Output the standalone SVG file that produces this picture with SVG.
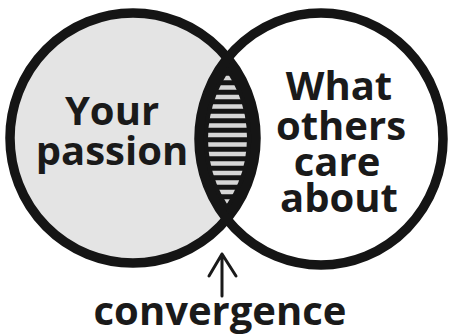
<svg xmlns="http://www.w3.org/2000/svg" width="450" height="336" viewBox="0 0 450 336">
  <style>
    .ring { fill: none; stroke: #151515; stroke-width: 9.5; }
    .lbl { font-family: "Open Sans", "DejaVu Sans", sans-serif; font-weight: 700; font-size: 40px; fill: #1a1a1a; text-anchor: middle; }
    .stripe { stroke: #d6d6d6; stroke-width: 4.5; }
    .arrow { fill: none; stroke: #1a1a1a; stroke-width: 3; stroke-linecap: round; stroke-linejoin: round; }
  </style>
  <defs>
    <clipPath id="clipL"><ellipse cx="133" cy="138" rx="123" ry="125"/></clipPath>
    <clipPath id="clipR"><ellipse cx="321" cy="139" rx="122" ry="126"/></clipPath>
    <clipPath id="clipLi"><ellipse cx="133" cy="138" rx="114" ry="116"/></clipPath>
    <clipPath id="clipRi"><ellipse cx="321" cy="139" rx="113" ry="117"/></clipPath>
  </defs>
  <rect width="450" height="336" fill="#ffffff"/>

  <g id="passion">
    <ellipse cx="133" cy="138" rx="123" ry="125" fill="#e4e4e4"/>
  </g>
  <g id="others">
    <ellipse cx="321" cy="139" rx="122" ry="126" fill="#ffffff"/>
  </g>

  <g id="convergence-zone">
    <g clip-path="url(#clipL)">
      <ellipse cx="321" cy="139" rx="122" ry="126" fill="#151515"/>
    </g>
    <g clip-path="url(#clipLi)">
      <g clip-path="url(#clipRi)">
        <line class="stripe" x1="180" y1="78" x2="270" y2="78"/>
        <line class="stripe" x1="180" y1="87.5" x2="270" y2="87.5"/>
        <line class="stripe" x1="180" y1="97" x2="270" y2="97"/>
        <line class="stripe" x1="180" y1="106.5" x2="270" y2="106.5"/>
        <line class="stripe" x1="180" y1="116" x2="270" y2="116"/>
        <line class="stripe" x1="180" y1="125.5" x2="270" y2="125.5"/>
        <line class="stripe" x1="180" y1="135" x2="270" y2="135"/>
        <line class="stripe" x1="180" y1="144.5" x2="270" y2="144.5"/>
        <line class="stripe" x1="180" y1="154" x2="270" y2="154"/>
        <line class="stripe" x1="180" y1="163.5" x2="270" y2="163.5"/>
        <line class="stripe" x1="180" y1="173" x2="270" y2="173"/>
        <line class="stripe" x1="180" y1="182.5" x2="270" y2="182.5"/>
        <line class="stripe" x1="180" y1="192" x2="270" y2="192"/>
        <line class="stripe" x1="180" y1="201.5" x2="270" y2="201.5"/>
      </g>
    </g>
  </g>

  <g id="rings">
    <ellipse class="ring" cx="133" cy="138" rx="123" ry="125"/>
    <ellipse class="ring" cx="321" cy="139" rx="122" ry="126"/>
  </g>

  <g id="passion-label">
    <text class="lbl" x="112" y="125">Your</text>
    <text class="lbl" x="112" y="165">passion</text>
  </g>
  <g id="others-label">
    <text class="lbl" x="339" y="100">What</text>
    <text class="lbl" x="341" y="140">others</text>
    <text class="lbl" x="337" y="176">care</text>
    <text class="lbl" x="339" y="212">about</text>
  </g>

  <g id="connectors">
    <path class="arrow" d="M222 296 L222 254 M209 276 L222 254 L236 276"/>
  </g>
  <g id="convergence-label">
    <text class="lbl" x="220" y="325">convergence</text>
  </g>
</svg>
